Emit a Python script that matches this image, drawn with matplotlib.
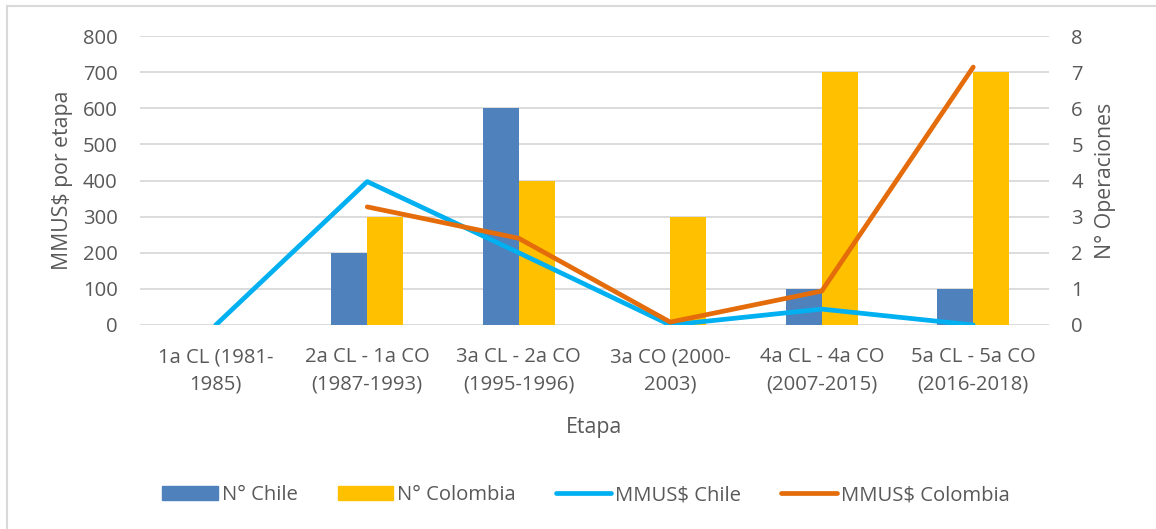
import matplotlib
matplotlib.use("Agg")
import matplotlib.pyplot as plt
import numpy as np
from matplotlib.patches import Patch
from matplotlib.lines import Line2D

plt.rcParams['font.family'] = ['Open Sans', 'DejaVu Sans']

categories = ["1a CL (1981-\n1985)", "2a CL - 1a CO\n(1987-1993)", "3a CL - 2a CO\n(1995-1996)",
              "3a CO (2000-\n2003)", "4a CL - 4a CO\n(2007-2015)", "5a CL - 5a CO\n(2016-2018)"]
n_chile = [0, 2, 6, 0, 1, 1]
n_colombia = [0, 3, 4, 3, 7, 7]
mmus_chile = [0, 397, 200, 0, 44, 0]
mmus_colombia = [np.nan, 327, 240, 8, 94, 714]

left_ticks = [0, 100, 200, 300, 400, 500, 600, 700, 800]
right_ticks = [0, 1, 2, 3, 4, 5, 6, 7, 8]

c_bar_cl = "#4F81BD"
c_bar_co = "#FFC000"
c_line_cl = "#00B0F0"
c_line_co = "#E46C0A"
txt = "#595959"
grid = "#D9D9D9"

W, H = 1156, 529
fig = plt.figure(figsize=(W / 100, H / 100), dpi=100)

# chart-area frame (left and top edges)
fig.add_artist(Line2D([7 / W, 7 / W], [0, 1 - 6 / H], transform=fig.transFigure,
                      color="#D9D9D9", linewidth=1.5))
fig.add_artist(Line2D([7 / W, 1], [1 - 6 / H, 1 - 6 / H], transform=fig.transFigure,
                      color="#D9D9D9", linewidth=1.5))

ax_bar = fig.add_axes([140 / W, 1 - 325 / H, 909 / W, 289 / H])
ax_line = ax_bar.twinx()

x = np.arange(len(categories))
w = 0.238
ax_bar.bar(x - w / 2, n_chile, width=w, color=c_bar_cl, zorder=2)
ax_bar.bar(x + w / 2, n_colombia, width=w, color=c_bar_co, zorder=2)
ax_bar.set_ylim(0, 8)
ax_bar.set_yticks(right_ticks)
ax_bar.yaxis.tick_right()
ax_bar.yaxis.set_label_position("right")
ax_bar.grid(axis="y", color=grid, linewidth=1.3, zorder=0)
ax_bar.set_axisbelow(True)

lw = 3.4
ax_line.plot(x, mmus_chile, color=c_line_cl, linewidth=lw, solid_capstyle="round", solid_joinstyle="round")
ax_line.plot(x, mmus_colombia, color=c_line_co, linewidth=lw, solid_capstyle="round", solid_joinstyle="round")
ax_line.set_ylim(0, 800)
ax_line.set_yticks(left_ticks)
ax_line.yaxis.tick_left()
ax_line.yaxis.set_label_position("left")

ax_line.set_zorder(ax_bar.get_zorder() + 1)
ax_line.patch.set_visible(False)

fs = 14.6
for a in (ax_bar, ax_line):
    for s in a.spines.values():
        s.set_visible(False)
    a.tick_params(length=0, colors=txt, labelsize=fs)
    a.set_xlim(-0.5, len(categories) - 0.5)

ax_bar.tick_params(axis="y", pad=16)
ax_line.tick_params(axis="y", pad=16)
ax_bar.set_xticks(x)
ax_bar.set_xticklabels(categories, fontsize=fs, color=txt, linespacing=1.5)
ax_bar.tick_params(axis="x", pad=16)

ax_line.set_ylabel("MMUS$ por etapa", fontsize=15.3, color=txt, labelpad=7)
ax_bar.set_ylabel("N° Operaciones", fontsize=15.3, color=txt, labelpad=9)
ax_bar.set_xlabel("Etapa", fontsize=15.3, color=txt, labelpad=16)

handles = [Patch(color=c_bar_cl), Patch(color=c_bar_co),
           Line2D([], [], color=c_line_cl, linewidth=lw, solid_capstyle="round"),
           Line2D([], [], color=c_line_co, linewidth=lw, solid_capstyle="round")]
labels = ["N° Chile", "N° Colombia", "MMUS$ Chile", "MMUS$ Colombia"]
fig.legend(handles, labels, loc="center", bbox_to_anchor=(586 / W, 1 - 495 / H), ncol=4,
           frameon=False, fontsize=fs, labelcolor=txt, handlelength=2.75, handleheight=0.7,
           handletextpad=0.2, columnspacing=1.95)

fig.savefig("out.png", dpi=100)
